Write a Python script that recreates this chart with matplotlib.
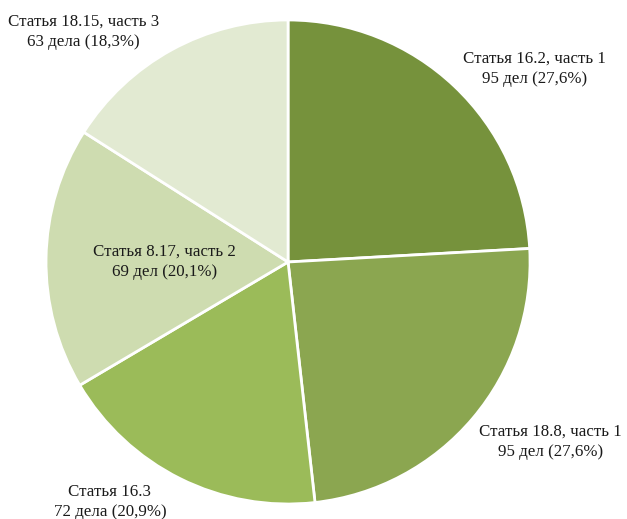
import matplotlib.pyplot as plt

plt.rcParams['font.family'] = ['Liberation Serif', 'DejaVu Serif']

# slices, clockwise from 12 o'clock
articles = ['Статья 16.2, часть 1', 'Статья 18.8, часть 1', 'Статья 16.3',
            'Статья 8.17, часть 2', 'Статья 18.15, часть 3']
counts = [95, 95, 72, 69, 63]
count_words = ['дел', 'дел', 'дела', 'дел', 'дела']
shares = ['27,6%', '27,6%', '20,9%', '20,1%', '18,3%']
colors = ['#76923C', '#8BA650', '#9BBB59', '#CEDCB0', '#E2EAD2']

# label anchor spots, in pie radii around the centre
label_pos = [(1.017, 0.798), (1.083, -0.744), (-0.736, -0.992),
             (-0.512, 0.0), (-0.845, 0.950)]

fig = plt.figure(figsize=(6.27, 5.19), dpi=100)
ax = fig.add_axes([0.0734, 0.0289, 0.772, 0.9326])

ax.pie(counts, colors=colors, startangle=90, counterclock=False,
       wedgeprops=dict(edgecolor='white', linewidth=2))
ax.set_xlim(-1, 1)
ax.set_ylim(-1, 1)
ax.set_aspect('equal')
ax.axis('off')

for name, n, word, pct, (x, y) in zip(articles, counts, count_words, shares, label_pos):
    ax.text(x, y, f'{name}\n{n} {word} ({pct})', ha='center', va='center',
            fontsize=12.2, color='#1a1a1a', linespacing=1.35, clip_on=False)

fig.savefig('out.png', dpi=100)
